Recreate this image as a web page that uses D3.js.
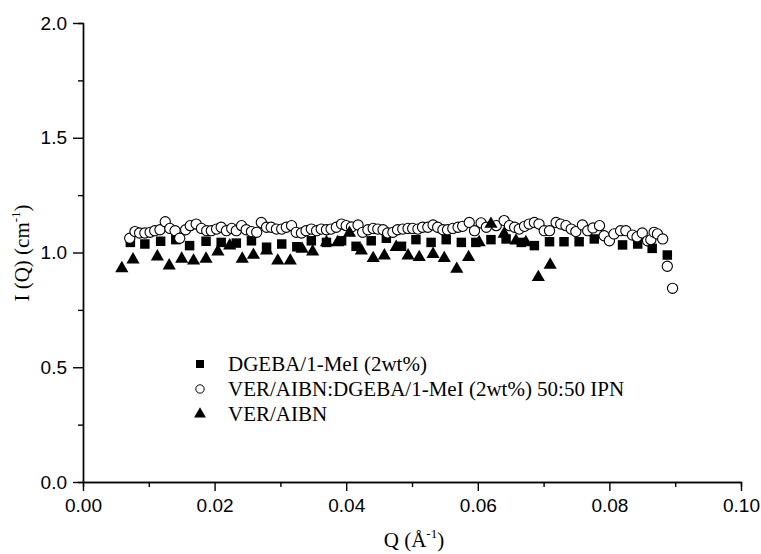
<!DOCTYPE html>
<html>
<head>
<meta charset="utf-8">
<script src="https://cdn.jsdelivr.net/npm/d3@7/dist/d3.min.js"></script>
<style>
  html, body { margin: 0; padding: 0; background: #fff; }
  svg { display: block; }
</style>
</head>
<body>
<svg id="chart" width="761" height="554"></svg>
<script>
// SANS intensity I(Q) for three networks
const seriesNames = [
  "DGEBA/1-MeI (2wt%)",
  "VER/AIBN:DGEBA/1-MeI (2wt%) 50:50 IPN",
  "VER/AIBN"
];

// DGEBA/1-MeI (2wt%)
const qSquare = [0.0072, 0.0094, 0.0118, 0.0141, 0.0162, 0.0187, 0.0210, 0.0233, 0.0256, 0.0279,
  0.0302, 0.0325, 0.0347, 0.0370, 0.0393, 0.0415, 0.0438, 0.0461, 0.0484, 0.0506,
  0.0529, 0.0552, 0.0575, 0.0597, 0.0620, 0.0643, 0.0666, 0.0686, 0.0709, 0.0731,
  0.0754, 0.0777, 0.0820, 0.0843, 0.0865, 0.0888];
const iSquare = [1.044, 1.037, 1.049, 1.056, 1.030, 1.049, 1.044, 1.041, 1.051, 1.023,
  1.037, 1.025, 1.051, 1.044, 1.051, 1.027, 1.051, 1.062, 1.027, 1.056,
  1.044, 1.056, 1.044, 1.044, 1.056, 1.059, 1.044, 1.030, 1.047, 1.047,
  1.047, 1.059, 1.033, 1.037, 1.018, 0.989];

// VER/AIBN:DGEBA/1-MeI (2wt%) 50:50 IPN
const qCircle = [0.0071, 0.0079, 0.0086, 0.0094, 0.0102, 0.0109, 0.0117, 0.0125, 0.0132, 0.0140,
  0.0147, 0.0156, 0.0163, 0.0172, 0.0180, 0.0188, 0.0195, 0.0203, 0.0210, 0.0218,
  0.0226, 0.0233, 0.0241, 0.0248, 0.0256, 0.0264, 0.0271, 0.0279, 0.0286, 0.0294,
  0.0302, 0.0309, 0.0317, 0.0324, 0.0332, 0.0339, 0.0347, 0.0355, 0.0362, 0.0370,
  0.0377, 0.0385, 0.0393, 0.0400, 0.0408, 0.0418, 0.0425, 0.0433, 0.0441, 0.0448,
  0.0456, 0.0463, 0.0471, 0.0478, 0.0486, 0.0494, 0.0501, 0.0509, 0.0516, 0.0524,
  0.0532, 0.0539, 0.0547, 0.0554, 0.0562, 0.0570, 0.0577, 0.0587, 0.0595, 0.0605,
  0.0613, 0.0628, 0.0640, 0.0648, 0.0656, 0.0663, 0.0671, 0.0678, 0.0686, 0.0693,
  0.0701, 0.0709, 0.0719, 0.0726, 0.0734, 0.0742, 0.0749, 0.0759, 0.0767, 0.0775,
  0.0785, 0.0792, 0.0800, 0.0807, 0.0817, 0.0825, 0.0835, 0.0842, 0.0850, 0.0858,
  0.0863, 0.0868, 0.0873, 0.0881, 0.0888, 0.0896];
const iCircle = [1.062, 1.091, 1.085, 1.085, 1.088, 1.095, 1.099, 1.134, 1.105, 1.095,
  1.062, 1.099, 1.117, 1.124, 1.105, 1.095, 1.095, 1.102, 1.110, 1.095,
  1.105, 1.095, 1.117, 1.099, 1.091, 1.088, 1.131, 1.110, 1.110, 1.102,
  1.102, 1.110, 1.117, 1.088, 1.085, 1.095, 1.102, 1.095, 1.102, 1.099,
  1.102, 1.110, 1.124, 1.117, 1.111, 1.120, 1.088, 1.099, 1.105, 1.102,
  1.099, 1.085, 1.088, 1.099, 1.102, 1.105, 1.105, 1.102, 1.110, 1.110,
  1.120, 1.110, 1.099, 1.099, 1.105, 1.110, 1.114, 1.131, 1.095, 1.129,
  1.110, 1.117, 1.139, 1.117, 1.110, 1.102, 1.114, 1.124, 1.131, 1.124,
  1.095, 1.095, 1.131, 1.124, 1.117, 1.102, 1.091, 1.120, 1.095, 1.107,
  1.117, 1.073, 1.051, 1.081, 1.095, 1.095, 1.076, 1.068, 1.085, 1.051,
  1.056, 1.088, 1.081, 1.059, 0.940, 0.844];

// VER/AIBN
const qTriangle = [0.0059, 0.0076, 0.0113, 0.0131, 0.0150, 0.0168, 0.0187, 0.0205, 0.0223, 0.0242,
  0.0259, 0.0279, 0.0296, 0.0315, 0.0333, 0.0349, 0.0370, 0.0387, 0.0405, 0.0423,
  0.0441, 0.0458, 0.0476, 0.0494, 0.0511, 0.0532, 0.0549, 0.0568, 0.0586, 0.0602,
  0.0620, 0.0640, 0.0658, 0.0673, 0.0692, 0.0710];
const iTriangle = [0.931, 0.969, 0.982, 0.943, 0.972, 0.964, 0.972, 1.004, 1.030, 0.972,
  0.989, 1.008, 0.964, 0.964, 1.015, 1.004, 1.044, 1.044, 1.085, 1.008,
  0.975, 0.986, 1.023, 0.986, 0.979, 0.993, 0.975, 0.928, 0.979, 1.044,
  1.124, 1.081, 1.051, 1.044, 0.892, 0.946];

const xTicks = [0.00, 0.02, 0.04, 0.06, 0.08, 0.10];
const yTicks = [0.0, 0.5, 1.0, 1.5, 2.0];

const svg = d3.select("#chart");
const plotLeft = 83, plotRight = 741, plotTop = 23, plotBottom = 482;

const x = d3.scaleLinear().domain([0, 0.10]).range([plotLeft, plotRight]);
const y = d3.scaleLinear().domain([0, 2.0]).range([plotBottom, plotTop]);

const tickFont = "'Liberation Sans', Arial, sans-serif";
const serif = "'Liberation Serif', 'Times New Roman', serif";

// minor ticks first, then the major axis on top
const xMinor = d3.axisBottom(x).tickValues(d3.range(0.01, 0.10, 0.02)).tickSize(5).tickFormat("");
const yMinor = d3.axisLeft(y).tickValues(d3.range(0.25, 2.0, 0.5)).tickSize(5).tickFormat("");
svg.append("g").attr("transform", `translate(0,${plotBottom})`).call(xMinor);
svg.append("g").attr("transform", `translate(${plotLeft},0)`).call(yMinor);

const xAxis = svg.append("g").attr("transform", `translate(0,${plotBottom})`)
  .call(d3.axisBottom(x).tickValues(xTicks).tickSize(9).tickSizeOuter(0).tickPadding(8).tickFormat(d3.format(".2f")));
const yAxis = svg.append("g").attr("transform", `translate(${plotLeft},0)`)
  .call(d3.axisLeft(y).tickValues(yTicks).tickSize(10).tickSizeOuter(0).tickPadding(6).tickFormat(d3.format(".1f")));

svg.selectAll(".domain, .tick line").attr("stroke", "#000").attr("stroke-width", 1.4);
[xAxis, yAxis].forEach(a => a.selectAll("text")
  .attr("font-family", tickFont).attr("font-size", 19).attr("fill", "#000"));

// axis titles
const xt = svg.append("text").attr("x", 414).attr("y", 547).attr("text-anchor", "middle")
  .attr("font-family", serif).attr("font-size", 21).attr("fill", "#000");
xt.append("tspan").text("Q (Å");
xt.append("tspan").attr("dy", -9).attr("font-size", 13).text("-1");
xt.append("tspan").attr("dy", 9).text(")");

const yt = svg.append("text").attr("transform", "translate(29,253) rotate(-90)")
  .attr("text-anchor", "middle").attr("font-family", serif).attr("font-size", 21).attr("fill", "#000");
yt.append("tspan").text("I (Q) (cm");
yt.append("tspan").attr("dy", -9).attr("font-size", 13).text("-1");
yt.append("tspan").attr("dy", 9).text(")");

// symbol generators
const sq = d3.symbol().type(d3.symbolSquare).size(90);
const ci = d3.symbol().type(d3.symbolCircle).size(82);
const tr = d3.symbol().type(d3.symbolTriangle).size(75);

const plot = svg.append("g");
plot.selectAll(".sq").data(d3.zip(qSquare, iSquare)).join("path")
  .attr("d", sq).attr("transform", d => `translate(${x(d[0])},${y(d[1])})`).attr("fill", "#000");
plot.selectAll(".ci").data(d3.zip(qCircle, iCircle)).join("path")
  .attr("d", ci).attr("transform", d => `translate(${x(d[0])},${y(d[1])})`)
  .attr("fill", "#fff").attr("stroke", "#000").attr("stroke-width", 1.1);
plot.selectAll(".tr").data(d3.zip(qTriangle, iTriangle)).join("path")
  .attr("d", tr).attr("transform", d => `translate(${x(d[0])},${y(d[1])})`).attr("fill", "#000");

// legend
const legend = svg.append("g");
const legendRows = [
  { name: seriesNames[0], sym: d3.symbol().type(d3.symbolSquare).size(64), fill: "#000", stroke: "none" },
  { name: seriesNames[1], sym: d3.symbol().type(d3.symbolCircle).size(55), fill: "#fff", stroke: "#000" },
  { name: seriesNames[2], sym: d3.symbol().type(d3.symbolTriangle).size(60), fill: "#000", stroke: "none" }
];
legendRows.forEach((r, i) => {
  const ly = 364 + i * 25;
  legend.append("path").attr("d", r.sym).attr("transform", `translate(200,${ly})`)
    .attr("fill", r.fill).attr("stroke", r.stroke);
  legend.append("text").attr("x", 228).attr("y", ly).attr("dy", "0.35em")
    .attr("font-family", serif).attr("font-size", 21).attr("fill", "#000").text(r.name);
});
</script>
</body>
</html>
